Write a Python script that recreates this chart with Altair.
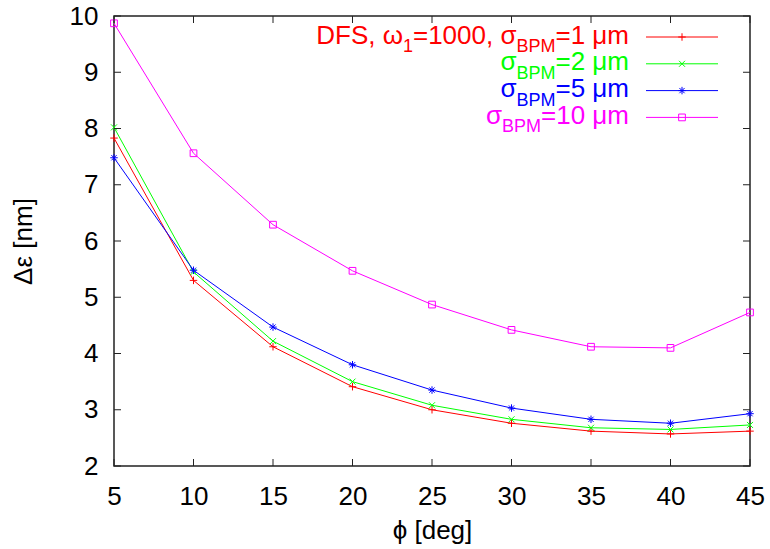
import altair as alt
import pandas as pd

# ---------------- data ----------------
phi = [5, 10, 15, 20, 25, 30, 35, 40, 45]
s1 = [7.83, 5.30, 4.12, 3.41, 3.00, 2.76, 2.62, 2.57, 2.62]
s2 = [8.02, 5.45, 4.22, 3.50, 3.08, 2.83, 2.68, 2.65, 2.73]
s5 = [7.48, 5.48, 4.47, 3.80, 3.35, 3.03, 2.83, 2.76, 2.93]
s10 = [9.87, 7.56, 6.29, 5.47, 4.87, 4.42, 4.12, 4.10, 4.73]

series_keys = ["s1", "s2", "s5", "s10"]
series_vals = [s1, s2, s5, s10]
colors = ["#ff0000", "#00ff00", "#0000ff", "#ff00ff"]
shapes = [
    "M-1,0L1,0M0,-1L0,1",
    "M-0.8,-0.8L0.8,0.8M-0.8,0.8L0.8,-0.8",
    "M-1,0L1,0M0,-1L0,1M-0.7,-0.7L0.7,0.7M-0.7,0.7L0.7,-0.7",
    "M-0.9,-0.9L0.9,-0.9L0.9,0.9L-0.9,0.9Z",
]
# legend text pieces: (text, is_subscript)
legend_rows = [
    [("DFS, ω", False), ("1", True), ("=1000, σ", False), ("BPM", True), ("=1 μm", False)],
    [("σ", False), ("BPM", True), ("=2 μm", False)],
    [("σ", False), ("BPM", True), ("=5 μm", False)],
    [("σ", False), ("BPM", True), ("=10 μm", False)],
]
x_ticks = [5, 10, 15, 20, 25, 30, 35, 40, 45]
y_ticks = [2, 3, 4, 5, 6, 7, 8, 9, 10]

x_title = "ϕ [deg]"
y_title = "Δε [nm]"

# ---------------- layout ----------------
W, H = 636, 450
FONT = "Liberation Sans"
FS = 26
SUB = 18
FRAME = "#222222"

rows = []
for k, vals in zip(series_keys, series_vals):
    for p, v in zip(phi, vals):
        rows.append({"phi": p, "val": v, "series": k})
df = pd.DataFrame(rows)

xscale = alt.Scale(domain=[5, 45], nice=False, zero=False)
yscale = alt.Scale(domain=[2, 10], nice=False, zero=False)

xaxis = alt.Axis(values=x_ticks, format="d", title=x_title, tickSize=0, ticks=False,
                 domain=False, grid=False, labelFontSize=FS, labelFont=FONT,
                 labelColor="black", labelPadding=17, labelFlush=False, labelOverlap=False,
                 titleFontSize=FS, titleFont=FONT, titleFontWeight="normal",
                 titleColor="black", titleY=64, titleBaseline="middle")
yaxis = alt.Axis(values=y_ticks, format="d", title=y_title, tickSize=0, ticks=False,
                 domain=False, grid=False, labelFontSize=FS, labelFont=FONT,
                 labelColor="black", labelPadding=16, labelOverlap=False,
                 titleFontSize=FS, titleFont=FONT, titleFontWeight="normal",
                 titleColor="black", titleX=-91, titleY=H / 2, titleAngle=-90,
                 titleAlign="center", titleBaseline="middle")

color = alt.Color("series:N", scale=alt.Scale(domain=series_keys, range=colors), legend=None)
shape = alt.Shape("series:N", scale=alt.Scale(domain=series_keys, range=shapes), legend=None)

base = alt.Chart(df)
lines = base.mark_line(strokeWidth=1).encode(
    x=alt.X("phi:Q", scale=xscale, axis=xaxis),
    y=alt.Y("val:Q", scale=yscale, axis=yaxis),
    color=color, detail="series:N",
)
points = base.mark_point(filled=False, strokeWidth=1, size=56, opacity=1).encode(
    x=alt.X("phi:Q", scale=xscale),
    y=alt.Y("val:Q", scale=yscale),
    color=color, shape=shape,
)

# inner tick marks on all four sides
dxt = pd.DataFrame({"v": x_ticks})
dyt = pd.DataFrame({"v": y_ticks})
TL = 7
tick_layers = [
    alt.Chart(dxt).mark_rule(color=FRAME, strokeWidth=1).encode(
        x=alt.X("v:Q", scale=xscale), y=alt.value(H), y2=alt.value(H - TL)),
    alt.Chart(dxt).mark_rule(color=FRAME, strokeWidth=1).encode(
        x=alt.X("v:Q", scale=xscale), y=alt.value(0), y2=alt.value(TL)),
    alt.Chart(dyt).mark_rule(color=FRAME, strokeWidth=1).encode(
        y=alt.Y("v:Q", scale=yscale), x=alt.value(0), x2=alt.value(TL)),
    alt.Chart(dyt).mark_rule(color=FRAME, strokeWidth=1).encode(
        y=alt.Y("v:Q", scale=yscale), x=alt.value(W), x2=alt.value(W - TL)),
]

# ---------------- custom legend ----------------
METRIC = {'D': .722, 'F': .611, 'S': .667, ',': .278, ' ': .278, 'ω': .781,
          'σ': .617, 'μ': .576, '=': .584, 'm': .833, 'B': .667, 'P': .667,
          'M': .833}
for d in "0123456789":
    METRIC[d] = .556


def twidth(s, fs):
    return sum(METRIC.get(c, .6) for c in s) * fs


one = pd.DataFrame({"k": [0]})
legend_layers = []
TEXT_RIGHT = 515
LINE_X1, LINE_X2, MARK_X = 532, 604, 568
ROW0, ROW_DY = 21, 26.8
for i, pieces in enumerate(legend_rows):
    ly = ROW0 + i * ROW_DY
    col = colors[i]
    xr = TEXT_RIGHT
    for txt, is_sub in reversed(pieces):
        fs = SUB if is_sub else FS
        yb = ly + (15 if is_sub else 6.5)
        legend_layers.append(
            alt.Chart(one).mark_text(text=txt, font=FONT, fontSize=fs, color=col,
                                     align="right", baseline="alphabetic").encode(
                x=alt.value(xr), y=alt.value(yb)))
        xr -= twidth(txt, fs)
    legend_layers.append(
        alt.Chart(one).mark_rule(color=col, strokeWidth=1).encode(
            x=alt.value(LINE_X1), x2=alt.value(LINE_X2), y=alt.value(ly)))
    legend_layers.append(
        alt.Chart(one).mark_point(shape=shapes[i], filled=False, strokeWidth=1,
                                  size=56, color=col, opacity=1).encode(
            x=alt.value(MARK_X), y=alt.value(ly)))

chart = alt.layer(lines, points, *tick_layers, *legend_layers).properties(
    width=W, height=H,
    padding={"left": 114, "top": 16, "right": 20, "bottom": 83},
    autosize=alt.AutoSizeParams(type="none"),
    background="white",
).configure_view(stroke=FRAME, strokeWidth=1.5)

chart.save("out.html", embed_options={"renderer": "svg", "actions": False})
